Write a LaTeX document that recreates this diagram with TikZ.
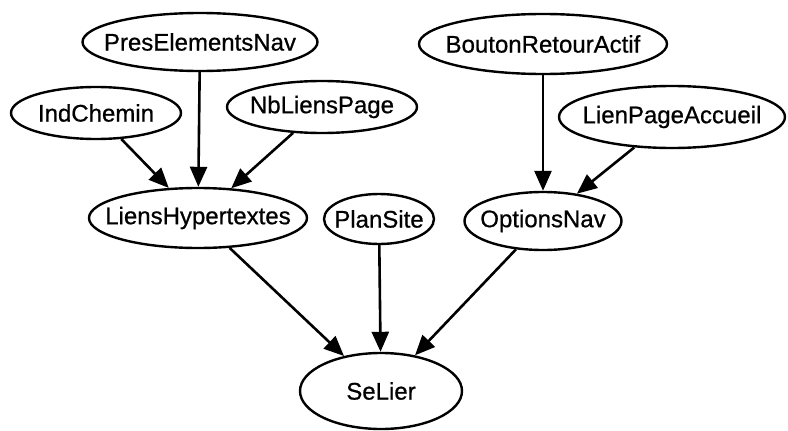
\documentclass[tikz,border=0pt]{standalone}
\usepackage{fontspec}
\setmainfont{Liberation Sans}
\newfontfamily\lblfont{Liberation Sans}[FakeBold=0.7]
\usetikzlibrary{arrows.meta,shapes.geometric}

\begin{document}
\begin{tikzpicture}[
  x=1pt, y=-1pt,
  font=\lblfont\fontsize{24}{28}\selectfont,
  v/.style={draw, ellipse, line width=2.4pt, inner sep=0pt,
    execute at begin node=\hbox to 0pt\bgroup\hss,
    execute at end node=\hss\egroup},
  arr/.style={-{Triangle[length=20pt,width=17pt]}, line width=2.6pt}
]
\useasboundingbox (0,0) rectangle (788,431);
% top row
\node[v, minimum width=235pt, minimum height=58pt] (pres) at (200,42) {PresElementsNav};
\node[v, minimum width=248pt, minimum height=60pt] (bouton) at (543,44) {BoutonRetourActif};
% second row
\node[v, minimum width=170pt, minimum height=52pt] (ind) at (96,113) {IndChemin};
\node[v, minimum width=190pt, minimum height=52pt] (nbl) at (322,107) {NbLiensPage};
\node[v, minimum width=226pt, minimum height=62pt] (accueil) at (672,117) {LienPageAccueil};
% third row
\node[v, minimum width=218pt, minimum height=60pt] (liens) at (198,218) {LiensHypertextes};
\node[v, minimum width=110pt, minimum height=50pt] (plan) at (379,219) {PlanSite};
\node[v, minimum width=157pt, minimum height=58pt] (opt) at (543,221) {OptionsNav};
% bottom
\node[v, minimum width=162pt, minimum height=76pt] (lier) at (381,391) {SeLier};

\draw[arr] (ind) -- (liens);
\draw[arr] (pres) -- (liens);
\draw[arr] (nbl) -- (liens);
\draw[arr] (bouton) -- (opt);
\draw[arr] (accueil) -- (opt);
\draw[arr] (liens) -- (lier);
\draw[arr] (plan) -- (lier);
\draw[arr] (opt) -- (lier);
\end{tikzpicture}
\end{document}
